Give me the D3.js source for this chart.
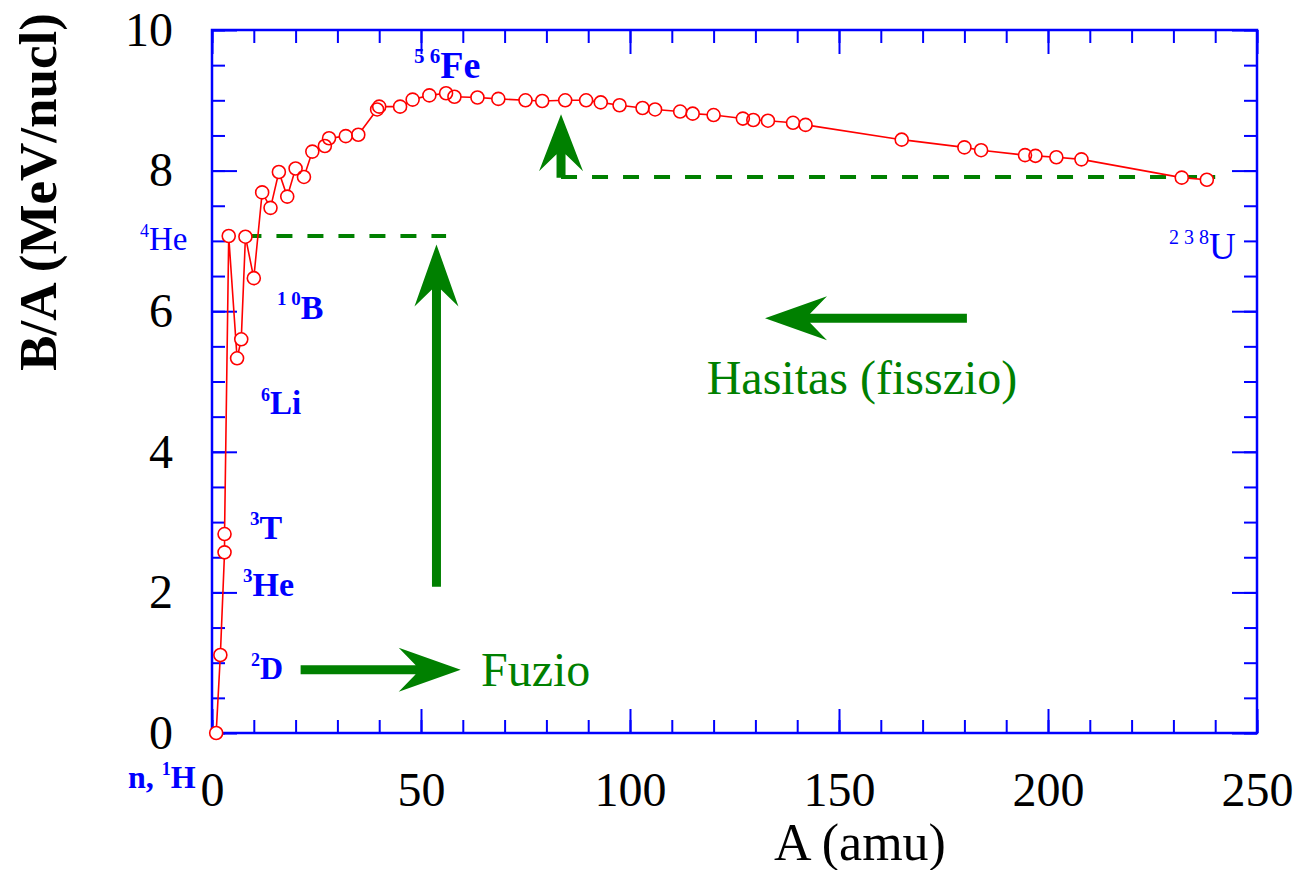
<!DOCTYPE html>
<html>
<head>
<meta charset="utf-8">
<script src="https://cdn.jsdelivr.net/npm/d3@7"></script>
<style>
  body { margin: 0; background: #ffffff; }
  text { font-family: "Liberation Serif", "Times New Roman", serif; }
</style>
</head>
<body>
<div id="chart"></div>
<script>
// binding energy per nucleon
var massNumbers = [1, 2, 3, 3, 4, 6, 7, 8, 10, 12, 14, 16, 18, 20, 22, 24, 27, 28, 32, 35,
    39.5, 40, 45, 48, 52, 56, 58, 63.5, 68.5, 75, 79, 84.5, 89.5, 93, 97.5, 103, 106, 112,
    115, 120, 127, 129.5, 133, 139, 142, 165, 180, 184, 194.5, 197, 202, 208, 232, 238];
var bindingPerNucleon = [0.00, 1.11, 2.57, 2.83, 7.07, 5.33, 5.60, 7.06, 6.47, 7.69, 7.47, 7.98, 7.63, 8.03, 7.91, 8.27, 8.35, 8.46, 8.49, 8.51,
    8.87, 8.91, 8.91, 9.01, 9.07, 9.10, 9.05, 9.04, 9.02, 9.00, 8.99, 9.00, 9.00, 8.97, 8.93, 8.89, 8.87, 8.84,
    8.81, 8.79, 8.74, 8.72, 8.71, 8.68, 8.65, 8.44, 8.33, 8.29, 8.22, 8.21, 8.19, 8.16, 7.90, 7.87];

var xTicks = [0, 50, 100, 150, 200, 250];
var yTicks = [0, 2, 4, 6, 8, 10];

var width = 1299, height = 870;
var margin = { top: 30, right: 42, bottom: 137, left: 212 };
var blue = "#0000ff", red = "#ff0000", green = "#008000";

var svg = d3.select("#chart").append("svg")
    .attr("width", width)
    .attr("height", height);

var x = d3.scaleLinear().domain([0, 250]).range([margin.left, width - margin.right]);
var y = d3.scaleLinear().domain([0, 10]).range([height - margin.bottom, margin.top]);

var points = massNumbers.map(function (a, i) { return [a, bindingPerNucleon[i]]; });

// axes: ticks inside the frame on all four sides
function styleAxis(g) {
    g.select(".domain").remove();
    g.selectAll(".tick line").attr("stroke", blue).attr("stroke-width", 2);
    g.selectAll(".tick text").attr("fill", "#000").style("font-size", "48px")
        .style("font-family", "'Liberation Serif', serif");
}
var x0 = y.range()[0], x1 = y.range()[1];
svg.append("g").attr("transform", "translate(0," + x0 + ")")
    .call(d3.axisBottom(x).tickValues(d3.range(0, 251, 10)).tickSize(-13).tickFormat(""))
    .call(styleAxis);
svg.append("g").attr("transform", "translate(0," + x0 + ")")
    .call(d3.axisBottom(x).tickValues(xTicks).tickSize(-24).tickPadding(39).tickFormat(d3.format("d")))
    .call(styleAxis);
svg.append("g").attr("transform", "translate(0," + x1 + ")")
    .call(d3.axisTop(x).tickValues(d3.range(0, 251, 10)).tickSize(-13).tickFormat(""))
    .call(styleAxis);
svg.append("g").attr("transform", "translate(0," + x1 + ")")
    .call(d3.axisTop(x).tickValues(xTicks).tickSize(-24).tickFormat(""))
    .call(styleAxis);
svg.append("g").attr("transform", "translate(" + x.range()[0] + ",0)")
    .call(d3.axisLeft(y).tickValues(d3.range(0, 10.01, 0.5)).tickSize(-13).tickFormat(""))
    .call(styleAxis);
svg.append("g").attr("transform", "translate(" + x.range()[0] + ",0)")
    .call(d3.axisLeft(y).tickValues(yTicks).tickSize(-25).tickPadding(39).tickFormat(d3.format("d")))
    .call(styleAxis);
svg.append("g").attr("transform", "translate(" + x.range()[1] + ",0)")
    .call(d3.axisRight(y).tickValues(d3.range(0, 10.01, 0.5)).tickSize(-13).tickFormat(""))
    .call(styleAxis);
svg.append("g").attr("transform", "translate(" + x.range()[1] + ",0)")
    .call(d3.axisRight(y).tickValues(yTicks).tickSize(-25).tickFormat(""))
    .call(styleAxis);

svg.append("rect")
    .attr("x", x.range()[0]).attr("y", y.range()[1])
    .attr("width", x.range()[1] - x.range()[0])
    .attr("height", y.range()[0] - y.range()[1])
    .attr("fill", "none").attr("stroke", blue).attr("stroke-width", 2.5);

// axis titles
svg.append("text")
    .attr("transform", "translate(56,192) rotate(-90)")
    .attr("text-anchor", "middle")
    .style("font-size", "53px").style("font-weight", "bold")
    .text("B/A (MeV/nucl)");
svg.append("text")
    .attr("x", 860).attr("y", 860)
    .attr("text-anchor", "middle")
    .style("font-size", "52px")
    .text("A (amu)");

// green guide lines and arrows
var dashed = [
    { a0: 8, a1: 56, b: 7.07 },
    { a0: 83.5, a1: 240, b: 7.91 }
];
svg.selectAll(".guide").data(dashed).enter().append("line")
    .attr("class", "guide")
    .attr("x1", function (d) { return x(d.a0); })
    .attr("x2", function (d) { return x(d.a1); })
    .attr("y1", function (d) { return y(d.b); })
    .attr("y2", function (d) { return y(d.b); })
    .attr("stroke", green).attr("stroke-width", 4)
    .attr("stroke-dasharray", "16,15");

var arrows = [
    { from: [21.2, 0.9], to: [59.5, 0.9], head: 62 },
    { from: [53.7, 2.08], to: [53.7, 6.95], head: 62 },
    { from: [180.6, 5.9], to: [132.3, 5.9], head: 62 },
    { from: [83.5, 7.9], to: [83.5, 8.8], head: 57 }
];
function arrowPath(d) {
    var x0 = x(d.from[0]), y0 = y(d.from[1]), x1 = x(d.to[0]), y1 = y(d.to[1]);
    var len = Math.hypot(x1 - x0, y1 - y0);
    var ux = (x1 - x0) / len, uy = (y1 - y0) / len, nx = -uy, ny = ux;
    var sw = 4.5, hw = 22, hl = d.head, notch = 17;
    function p(along, across) {
        return [x0 + ux * along + nx * across, y0 + uy * along + ny * across];
    }
    var pts = [p(0, -sw), p(len - hl + notch, -sw), p(len - hl, -hw), p(len, 0),
        p(len - hl, hw), p(len - hl + notch, sw), p(0, sw)];
    return "M" + pts.map(function (q) { return q.join(","); }).join("L") + "Z";
}
svg.selectAll(".arrow").data(arrows).enter().append("path")
    .attr("class", "arrow")
    .attr("d", arrowPath)
    .attr("fill", green);

svg.append("text").attr("x", 481).attr("y", 686)
    .attr("fill", green).style("font-size", "48px").text("Fuzio");
svg.append("text").attr("x", 862).attr("y", 394)
    .attr("text-anchor", "middle")
    .attr("fill", green).style("font-size", "48px").text("Hasitas (fisszio)");

// data curve
svg.append("path")
    .datum(points)
    .attr("d", d3.line().x(function (d) { return x(d[0]); }).y(function (d) { return y(d[1]); }))
    .attr("fill", "none").attr("stroke", red).attr("stroke-width", 1.6);
svg.selectAll(".dotbg").data(points).enter().append("circle")
    .attr("class", "dotbg")
    .attr("cx", function (d) { return x(d[0]); })
    .attr("cy", function (d) { return y(d[1]); })
    .attr("r", 6.5).attr("fill", "#fff");
svg.selectAll(".dot").data(points).enter().append("circle")
    .attr("class", "dot")
    .attr("cx", function (d) { return x(d[0]); })
    .attr("cy", function (d) { return y(d[1]); })
    .attr("r", 6.5).attr("fill", "none")
    .attr("stroke", red).attr("stroke-width", 1.6);

// isotope labels
var labels = [
    { sup: "4", main: "He", x: 140, y: 250, size: 33, bold: false },
    { sup: "1 0", main: "B", x: 277, y: 319, size: 34, bold: true },
    { sup: "6", main: "Li", x: 261, y: 414, size: 33, bold: true },
    { sup: "3", main: "T", x: 250, y: 539, size: 34, bold: true },
    { sup: "3", main: "He", x: 243, y: 596, size: 34, bold: true },
    { sup: "2", main: "D", x: 251, y: 679, size: 32, bold: true },
    { sup: "5 6", main: "Fe", x: 414, y: 78, size: 38, bold: true },
    { sup: "2 3 8", main: "U", x: 1169, y: 259, size: 37, bold: false },
    { pre: "n, ", sup: "1", main: "H", x: 128, y: 788, size: 32, bold: true }
];
labels.forEach(function (l) {
    var t = svg.append("text").attr("x", l.x).attr("y", l.y)
        .attr("fill", blue)
        .style("font-size", l.size + "px")
        .style("font-weight", l.bold ? "bold" : "normal");
    if (l.pre) t.append("tspan").text(l.pre);
    t.append("tspan").attr("dy", -l.size * 0.4).style("font-size", Math.round(l.size * 0.55) + "px")
        .text(l.sup);
    t.append("tspan").attr("dy", l.size * 0.4).text(l.main);
});
</script>
</body>
</html>
